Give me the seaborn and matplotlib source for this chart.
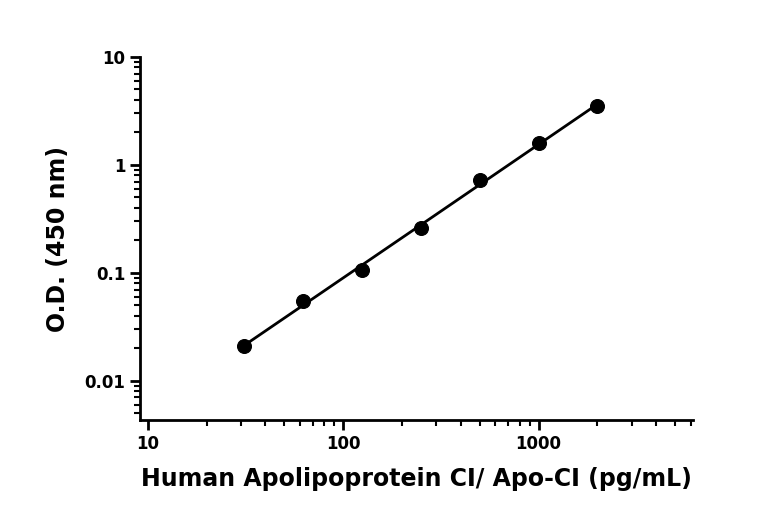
import matplotlib
matplotlib.use("Agg")
import matplotlib.pyplot as plt
import seaborn as sns
import numpy as np
from matplotlib.ticker import LogLocator, FixedLocator, FixedFormatter, NullFormatter

conc = [31.25, 62.5, 125, 250, 500, 1000, 2000]
od = [0.021, 0.055, 0.107, 0.26, 0.72, 1.6, 3.5]

# smooth fitted curve (quadratic in log-log space) through the standards
coef = np.polyfit(np.log10(conc), np.log10(od), 2)
fit_x = np.logspace(np.log10(conc[0]), np.log10(conc[-1]), 200)
fit_y = 10 ** np.polyval(coef, np.log10(fit_x))

sns.set_style("ticks")
plt.rcParams['font.family'] = ['DejaVu Sans']
plt.rcParams['text.color'] = 'black'
plt.rcParams['axes.labelcolor'] = 'black'
plt.rcParams['xtick.color'] = 'black'
plt.rcParams['ytick.color'] = 'black'
fig = plt.figure(figsize=(7.68, 5.32), dpi=100)
ax = fig.add_axes([0.182, 0.21, 0.72, 0.683])

sns.lineplot(x=fit_x, y=fit_y, color="black", linewidth=2, ax=ax)
sns.scatterplot(x=conc, y=od, color="black", s=100, edgecolor="black", zorder=3, ax=ax)

ax.set_xscale("log")
ax.set_yscale("log")
ax.set_xlim(9.1, 6150)
ax.set_ylim(0.0043, 10)

ax.xaxis.set_major_locator(FixedLocator([10, 100, 1000]))
ax.xaxis.set_major_formatter(FixedFormatter(["10", "100", "1000"]))
ax.xaxis.set_minor_locator(LogLocator(base=10, subs=np.arange(2, 10), numticks=20))
ax.xaxis.set_minor_formatter(NullFormatter())
ax.yaxis.set_major_locator(FixedLocator([0.01, 0.1, 1, 10]))
ax.yaxis.set_major_formatter(FixedFormatter(["0.01", "0.1", "1", "10"]))
ax.yaxis.set_minor_locator(LogLocator(base=10, subs=np.arange(2, 10), numticks=20))
ax.yaxis.set_minor_formatter(NullFormatter())

for s in ["top", "right"]:
    ax.spines[s].set_visible(False)
for s in ["left", "bottom"]:
    ax.spines[s].set_linewidth(2)
    ax.spines[s].set_color("black")
ax.tick_params(which="major", width=2, length=7, labelsize=12)
ax.tick_params(which="minor", width=1.5, length=4)
for lab in ax.get_xticklabels() + ax.get_yticklabels():
    lab.set_fontweight("bold")

ax.set_xlabel("Human Apolipoprotein CI/ Apo-CI (pg/mL)", fontsize=17, fontweight="bold", labelpad=10)
ax.set_ylabel("O.D. (450 nm)", fontsize=17, fontweight="bold", labelpad=10)

fig.savefig("out.png", dpi=100)
